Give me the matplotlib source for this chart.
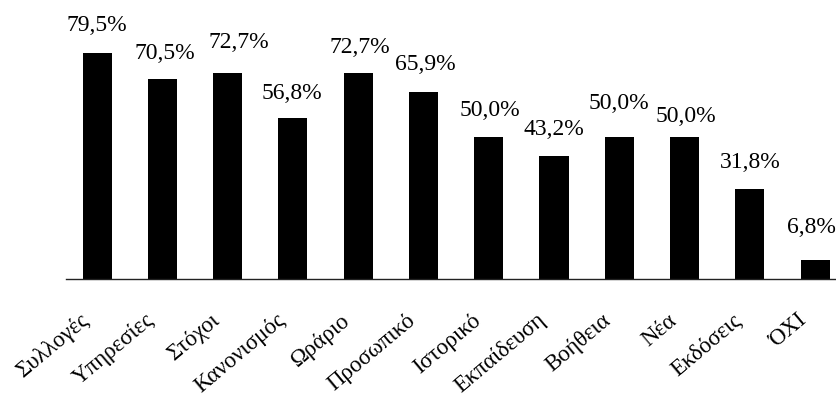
import matplotlib.pyplot as plt
import matplotlib.transforms as mtransforms

plt.rcParams['font.family'] = ['Liberation Serif', 'DejaVu Serif']

categories = ['Συλλογές', 'Υπηρεσίες', 'Στόχοι', 'Κανονισμός', 'Ωράριο',
              'Προσωπικό', 'Ιστορικό', 'Εκπαίδευση', 'Βοήθεια', 'Νέα',
              'Εκδόσεις', 'ΌΧΙ']
values = [79.5, 70.5, 72.7, 56.8, 72.7, 65.9, 50.0, 43.2, 50.0, 50.0, 31.8, 6.8]

# label offsets above the bar tops (pixels), as in the scanned original
lab_dx = [0, 2, 11, -1, 2, 2, 1, 0, 0, 1, 0, -4]
lab_dy = [17, 15, 20, 14, 15, 17, 16, 16, 23, 10, 16, 22]

fig = plt.figure(figsize=(8.36, 4.04), dpi=100)
ax = fig.add_axes([0.079, 0.309, 0.921, 0.668])

x = range(len(categories))
ax.bar(x, values, width=0.445, color='black')

for i, v in enumerate(values):
    lbl = ('%.1f%%' % v).replace('.', ',')
    ax.annotate(lbl, xy=(i, v), xytext=(lab_dx[i] * 0.72, lab_dy[i] * 0.72),
                textcoords='offset points', ha='center', va='bottom',
                fontsize=17, annotation_clip=False)

ax.set_xlim(-0.475, 11.32)
ax.set_ylim(0, 95)
ax.set_yticks([])
ax.set_xticks(list(x))
ax.set_xticklabels(categories, rotation=40, ha='right', va='top', fontsize=16.5)
ax.tick_params(axis='x', length=0, pad=22)
shift = mtransforms.ScaledTranslation(-4 / 100, 0, fig.dpi_scale_trans)
for t in ax.get_xticklabels():
    t.set_transform(t.get_transform() + shift)

for s in ['top', 'right', 'left']:
    ax.spines[s].set_visible(False)
ax.spines['bottom'].set_linewidth(1.0)
ax.spines['bottom'].set_color('#222222')

plt.savefig('out.png', dpi=100)
